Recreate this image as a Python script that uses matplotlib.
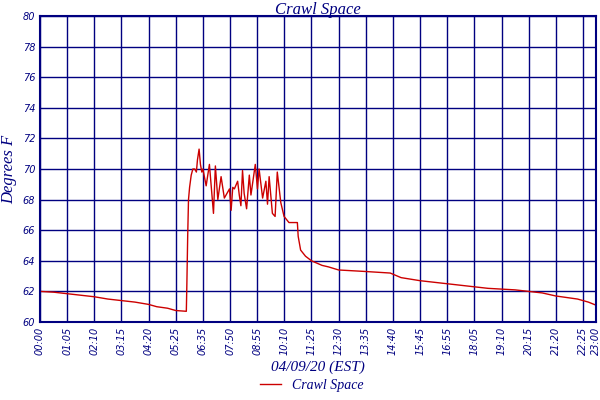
import matplotlib
matplotlib.use('Agg')
import matplotlib.pyplot as plt

NAVY = '#000080'

# x axis is in grid slots: labels are evenly spaced, last one is a short slot
tick_pos = list(range(21)) + [20.48]
tick_labels = ['00:00', '01:05', '02:10', '03:15', '04:20', '05:25', '06:35', '07:50', '08:55',
               '10:10', '11:25', '12:30', '13:35', '14:40', '15:45', '16:55', '18:05', '19:10',
               '20:15', '21:20', '22:25', '23:00']

slot = [0.0, 0.5, 1.0, 1.5, 2.0, 2.5, 3.0, 3.5, 4.0, 4.3, 4.7, 5.0, 5.39,
        5.41, 5.44, 5.47, 5.51, 5.57, 5.63, 5.70, 5.76, 5.80, 5.86, 5.91, 5.96,
        6.0, 6.12, 6.24, 6.39, 6.46, 6.55, 6.67, 6.79, 6.98, 7.04, 7.1, 7.16, 7.28,
        7.34, 7.4, 7.46, 7.52, 7.61, 7.71, 7.77, 7.93, 8.01, 8.07, 8.2, 8.32, 8.38,
        8.44, 8.56, 8.66, 8.74, 8.87, 8.99, 9.17, 9.48, 9.51, 9.6, 9.78, 10.0, 10.39,
        10.63, 11.0, 12.0, 12.9, 13.3, 14.0, 14.5, 15.5, 16.5, 17.5, 18.5, 19.0,
        19.8, 20.2, 20.48]
temps = [62.0, 61.95, 61.85, 61.75, 61.65, 61.5, 61.4, 61.3, 61.15, 61.0, 60.9, 60.75, 60.7,
         62.5, 65.6, 68.0, 68.8, 69.6, 70.0, 70.0, 69.8, 70.6, 71.3, 70.3, 69.8,
         70.0, 68.9, 70.3, 67.1, 70.2, 68.0, 69.5, 68.1, 68.7, 67.3, 68.8, 68.7, 69.2,
         68.3, 67.6, 69.9, 68.4, 67.4, 69.6, 68.3, 70.3, 68.7, 70.0, 68.1, 69.2, 67.7,
         69.5, 67.1, 66.9, 69.8, 67.8, 66.9, 66.5, 66.5, 65.6, 64.7, 64.3, 64.0, 63.7,
         63.6, 63.4, 63.3, 63.2, 62.9, 62.7, 62.6, 62.4, 62.2, 62.1, 61.9, 61.7,
         61.5, 61.3, 61.1]

fig = plt.figure(figsize=(6, 4), dpi=100)
ax = fig.add_axes([40/600, 78/400, 556/600, 306/400])
ax.plot(slot, temps, color='#cc0000', lw=1, label='Crawl Space')
ax.set_xlim(0, 20.48)
ax.set_ylim(60, 80)
ax.set_yticks(range(60, 81, 2))
ax.set_xticks(tick_pos)
ax.set_xticklabels(tick_labels, rotation=90, fontsize=7, style='italic', color=NAVY)
ax.tick_params(axis='y', labelsize=7, labelcolor=NAVY, length=0)
for lab in ax.get_yticklabels():
    lab.set_style('italic')
ax.tick_params(axis='x', length=0)
ax.grid(True, color=NAVY, lw=1)
ax.set_axisbelow(True)
for s in ax.spines.values():
    s.set_color(NAVY)
    s.set_linewidth(1.5)
fig.text(0.53, 1 - 10/400, 'Crawl Space', fontsize=12, style='italic', color=NAVY,
         family='Liberation Serif', ha='center', va='center')
ax.set_ylabel('Degrees F', fontsize=12, style='italic', color=NAVY, family='Liberation Serif')
ax.set_xlabel('04/09/20 (EST)', fontsize=11, style='italic', color=NAVY, family='Liberation Serif')
fig.legend(loc='lower center', bbox_to_anchor=(0.52, -0.01), frameon=False,
           prop={'family': 'Liberation Serif', 'style': 'italic', 'size': 10}, labelcolor=NAVY,
           handlelength=1.5)
fig.savefig('out.png')
